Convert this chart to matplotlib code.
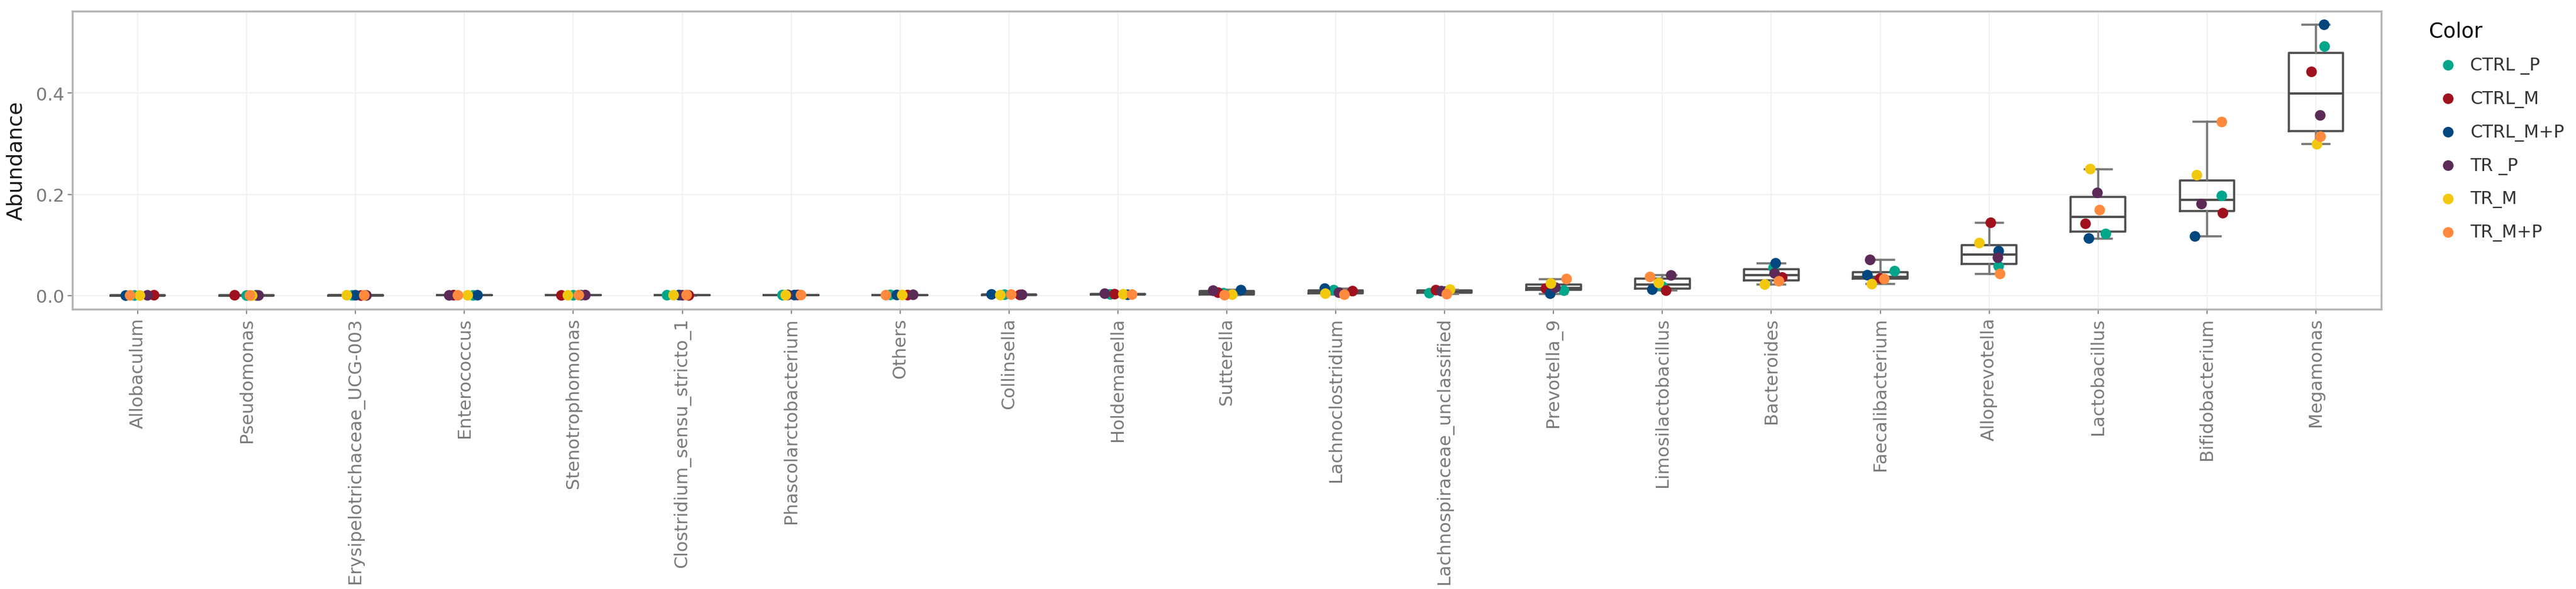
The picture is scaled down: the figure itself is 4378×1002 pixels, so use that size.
import numpy as np
import matplotlib
matplotlib.use("Agg")
import matplotlib.pyplot as plt
from matplotlib.ticker import FormatStrFormatter

genus = ["Allobaculum", "Pseudomonas", "Erysipelotrichaceae_UCG-003", "Enterococcus",
         "Stenotrophomonas", "Clostridium_sensu_stricto_1", "Phascolarctobacterium",
         "Others", "Collinsella", "Holdemanella", "Sutterella", "Lachnoclostridium",
         "Lachnospiraceae_unclassified", "Prevotella_9", "Limosilactobacillus",
         "Bacteroides", "Faecalibacterium", "Alloprevotella", "Lactobacillus",
         "Bifidobacterium", "Megamonas"]

groups = ["CTRL _P", "CTRL_M", "CTRL_M+P", "TR _P", "TR_M", "TR_M+P"]

# abundance per group, one value per genus (same order as genus)
ctrl_p  = [0.0004, 0.0003, 0.0006, 0.0005, 0.0008, 0.0009, 0.0011, 0.0016, 0.0020, 0.0025, 0.0050,
           0.0110, 0.0050, 0.0100, 0.0180, 0.0550, 0.0485, 0.058, 0.122, 0.197, 0.492]
ctrl_m  = [0.0009, 0.0008, 0.0003, 0.0010, 0.0006, 0.0005, 0.0014, 0.0012, 0.0015, 0.0030, 0.0060,
           0.0090, 0.0110, 0.0140, 0.0100, 0.0360, 0.0340, 0.144, 0.142, 0.163, 0.442]
ctrl_mp = [0.0002, 0.0006, 0.0008, 0.0009, 0.0010, 0.0012, 0.0012, 0.0014, 0.0025, 0.0018, 0.0110,
           0.0140, 0.0080, 0.0040, 0.0120, 0.0640, 0.0405, 0.088, 0.113, 0.117, 0.535]
tr_p    = [0.0007, 0.0004, 0.0005, 0.0006, 0.0012, 0.0008, 0.0015, 0.0018, 0.0018, 0.0040, 0.0100,
           0.0060, 0.0090, 0.0160, 0.0400, 0.0440, 0.0707, 0.075, 0.203, 0.181, 0.356]
tr_m    = [0.0003, 0.0002, 0.0009, 0.0008, 0.0007, 0.0010, 0.0010, 0.0013, 0.0012, 0.0028, 0.0020,
           0.0040, 0.0120, 0.0240, 0.0250, 0.0220, 0.0228, 0.104, 0.250, 0.238, 0.299]
tr_mp   = [0.0005, 0.0005, 0.0007, 0.0007, 0.0011, 0.0013, 0.0013, 0.0010, 0.0022, 0.0022, 0.0010,
           0.0020, 0.0030, 0.0330, 0.0370, 0.0285, 0.0330, 0.043, 0.169, 0.343, 0.314]

series = [ctrl_p, ctrl_m, ctrl_mp, tr_p, tr_m, tr_mp]
colors = ["#00A68A", "#A0111E", "#00467F", "#5B2A57", "#F2C80F", "#FF8A3D"]

# horizontal jitter of each point (fraction of category spacing), as seen in the figure
jitter = [
    [-0.03, 0.00, -0.03, 0.08, 0.00, -0.14, -0.08, -0.09, -0.04, -0.07, -0.03, -0.017, -0.14, 0.096, 0.00, 0.02, 0.133, 0.087, 0.071, 0.136, 0.08],
    [0.15, -0.11, 0.05, -0.10, -0.11, 0.06, 0.06, 0.07, 0.10, -0.03, -0.08, 0.155, -0.08, -0.07, 0.034, 0.10, 0.00, 0.015, -0.115, 0.146, -0.04],
    [-0.11, 0.09, 0.00, 0.12, 0.07, -0.03, 0.03, -0.03, -0.16, 0.09, 0.13, -0.10, 0.00, -0.03, -0.093, 0.04, -0.118, 0.087, -0.084, -0.11, 0.076],
    [0.09, 0.11, 0.10, -0.14, 0.11, 0.00, -0.03, 0.12, 0.12, -0.12, -0.125, 0.03, -0.03, 0.017, 0.08, 0.03, -0.093, 0.08, -0.006, -0.05, 0.04],
    [0.02, 0.05, -0.08, 0.03, -0.05, -0.08, -0.05, 0.02, -0.08, 0.05, 0.05, -0.095, 0.05, -0.024, -0.034, -0.06, -0.077, -0.09, -0.071, -0.093, 0.01],
    [-0.07, 0.03, 0.08, -0.06, 0.05, 0.04, 0.09, -0.13, 0.02, 0.13, -0.02, 0.08, 0.02, 0.12, -0.114, 0.07, 0.037, 0.10, 0.015, 0.136, 0.043],
]

W, H = 4378, 1003
fig = plt.figure(figsize=(W / 100, H / 100), dpi=100)
ax = fig.add_axes([123 / W, 1 - 527 / H, (4047 - 123) / W, (527 - 20) / H])

pos = np.arange(len(genus))
per_genus = [list(v) for v in zip(*series)]

box_col = "#4d4d4d"
whisk_col = "#777777"
ax.boxplot(per_genus, positions=pos, widths=0.5, whis=(0, 100), showfliers=False,
           boxprops=dict(color=box_col, linewidth=2.6),
           medianprops=dict(color=box_col, linewidth=2.8),
           whiskerprops=dict(color=whisk_col, linewidth=2.6),
           capprops=dict(color=whisk_col, linewidth=2.6),
           zorder=2)

for vals, jit, col, lab in zip(series, jitter, colors, groups):
    ax.scatter(pos + np.array(jit), vals, s=170, color=col, edgecolors="none",
               label=lab, zorder=3)

allv = np.concatenate([np.array(s) for s in series])
lo, hi = 0.0, allv.max()
pad = 0.05 * (hi - lo)
ax.set_ylim(lo - pad, hi + pad)
ax.set_xlim(-0.6, len(genus) - 0.4)

ax.set_xticks(pos)
ax.set_xticklabels(genus, rotation=90, fontsize=22, color="#7a7a7a")
ax.set_yticks([0.0, 0.2, 0.4])
ax.yaxis.set_major_formatter(FormatStrFormatter("%.1f"))
ax.tick_params(axis="y", labelsize=22, labelcolor="#7a7a7a")
ax.tick_params(length=6, width=1.5, color="#8a8a8a", pad=4)

ax.grid(True, color="#f1f1f1", linewidth=1.4)
ax.set_axisbelow(True)
for sp in ax.spines.values():
    sp.set_color("#b5b5b5")
    sp.set_linewidth(2.4)

ax.set_ylabel("Abundance", fontsize=26, color="#1a1a1a", labelpad=12)

leg = fig.legend(loc="upper left", bbox_to_anchor=(4128 / W, 1 - 36 / H), frameon=False,
                 title="Color", alignment="left", fontsize=21.5, title_fontsize=25,
                 handlelength=2.2, handletextpad=0.15, labelspacing=0.9,
                 borderpad=0, borderaxespad=0)
for t in leg.get_texts():
    t.set_color("#333333")

fig.savefig("out.png", dpi=100)
